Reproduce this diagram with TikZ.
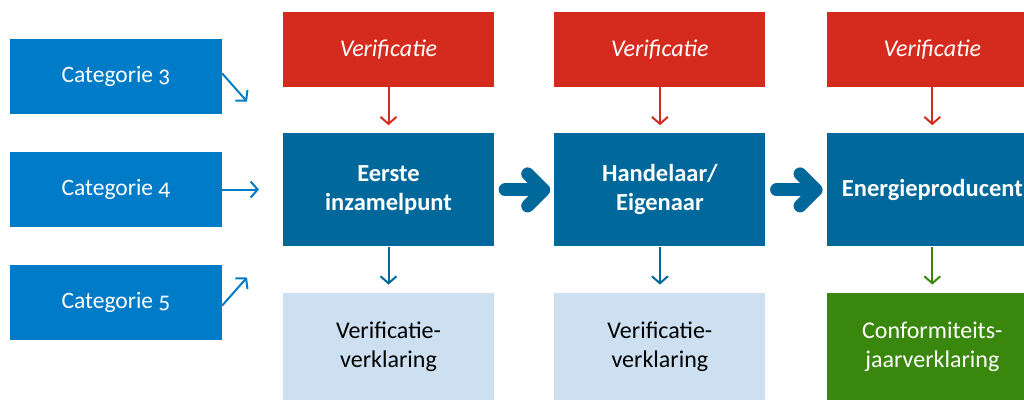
\documentclass[tikz,border=0pt]{standalone}
\usepackage{fontspec}
\setmainfont{Carlito}[Numbers=OldStyle]
\usetikzlibrary{positioning,arrows.meta}
\definecolor{catblue}{HTML}{007BC7}
\definecolor{darkblue}{HTML}{01689B}
\definecolor{verred}{HTML}{D52B1E}
\definecolor{lightblue}{HTML}{CCE0F1}
\definecolor{confgreen}{HTML}{39870C}
\begin{document}
\begin{tikzpicture}[x=1pt,y=-1pt,node distance=46pt and 60pt]
        {

          \tikzstyle{box}=[inner sep=0pt,minimum width=211pt,align=center,font=\fontsize{24}{29}\selectfont]
          \tikzstyle{cat}=[box,fill=catblue,text=white,minimum width=212pt,minimum height=75pt,font=\fontsize{23.5}{28}\selectfont]
          \tikzstyle{check}=[box,fill=verred,text=white,minimum height=75pt,font=\fontsize{24}{29}\selectfont\itshape]
          \tikzstyle{actor}=[box,fill=darkblue,text=white,minimum height=113pt,font=\fontsize{24.5}{29}\selectfont\bfseries]
          \tikzstyle{result}=[box,fill=lightblue,text=black,minimum height=107pt]
          \tikzstyle{thin}=[line width=2pt,-{Straight Barb[length=7pt,width=16pt]}]
          \tikzstyle{big}=[darkblue,line width=13pt,line cap=round,-{Straight Barb[round,length=16pt,width=32pt]}]

          \useasboundingbox (0,0) rectangle (1024,399);
          \clip (0,0) rectangle (1024,399);
          \begin{scope}

            \node [cat] (c3) at (116,76.5) {Categorie 3};
            \node [cat] (c4) at (116,189.5) {Categorie 4};
            \node [cat] (c5) at (116,302.5) {Categorie 5};

            \node [check] (v1) at (388.5,49.5) {Verificatie};
            \node [check] (v2) [right=of v1] {Verificatie};
            \node [check] (v3) [right=61pt of v2] {Verificatie};

            \node [actor] (a1) [below=of v1] {Eerste\\inzamelpunt};
            \node [actor] (a2) [below=of v2] {Handelaar/\\Eigenaar};
            \node [actor] (a3) [below=of v3] {Energieproducent};

            \node [result] (r1) [below=of a1] {Verificatie-\\verklaring};
            \node [result] (r2) [below=of a2] {Verificatie-\\verklaring};
            \node [result,fill=confgreen,text=white] (r3) [below=of a3] {Conformiteits-\\jaarverklaring};

            \coordinate (in3) at (247,101.5);
            \coordinate (in4) at (259,189.5);
            \coordinate (in5) at (247,277.5);

            \draw [thin,catblue] (c3.east) ++(0,-3) -- (in3);
            \draw [thin,catblue] (c4) -- (in4);
            \draw [thin,catblue] (c5.east) ++(0,3) -- (in5);

            \draw [thin,verred,shorten >=8pt] (v1) -- (a1);
            \draw [thin,verred,shorten >=8pt] (v2) -- (a2);
            \draw [thin,verred,shorten >=8pt] (v3) -- (a3);

            \draw [big,shorten <=11pt,shorten >=4pt] (a1) -- (a2);
            \draw [big,shorten <=11pt,shorten >=4pt] (a2) -- (a3);

            \draw [thin,darkblue,shorten >=8pt] (a1) -- (r1);
            \draw [thin,darkblue,shorten >=8pt] (a2) -- (r2);
            \draw [thin,confgreen,shorten >=8pt] (a3) -- (r3);

          \end{scope}
        }
\end{tikzpicture}
\end{document}
